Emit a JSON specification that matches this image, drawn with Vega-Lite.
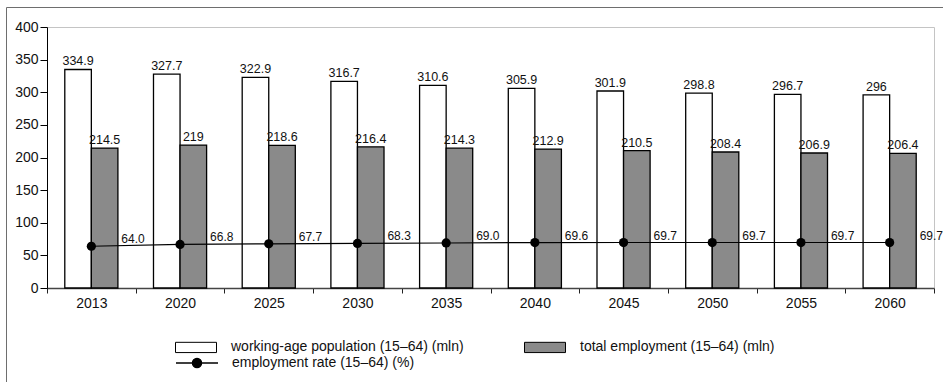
{
  "$schema": "https://vega.github.io/schema/vega-lite/v6.json",
  "width": 887,
  "height": 261,
  "autosize": {"type": "none"},
  "padding": {"left": 47, "top": 27, "right": 9, "bottom": 94},
  "background": "white",
  "config": {
    "view": {"stroke": "#c4c4c4", "strokeWidth": 1},
    "font": "Liberation Sans",
    "axis": {"labelFont": "Liberation Sans", "labelColor": "#111", "grid": false, "title": null},
    "legend": {"labelFont": "Liberation Sans"}
  },
  "data": {
    "values": [
      {"year": "2013", "wap": 334.9, "emp": 214.5, "rate": 64.0},
      {"year": "2020", "wap": 327.7, "emp": 219, "rate": 66.8},
      {"year": "2025", "wap": 322.9, "emp": 218.6, "rate": 67.7},
      {"year": "2030", "wap": 316.7, "emp": 216.4, "rate": 68.3},
      {"year": "2035", "wap": 310.6, "emp": 214.3, "rate": 69.0},
      {"year": "2040", "wap": 305.9, "emp": 212.9, "rate": 69.6},
      {"year": "2045", "wap": 301.9, "emp": 210.5, "rate": 69.7},
      {"year": "2050", "wap": 298.8, "emp": 208.4, "rate": 69.7},
      {"year": "2055", "wap": 296.7, "emp": 206.9, "rate": 69.7},
      {"year": "2060", "wap": 296, "emp": 206.4, "rate": 69.7}
    ]
  },
  "transform": [{"fold": ["wap", "emp", "rate"], "as": ["key", "value"]}],
  "encoding": {
    "x": {
      "field": "year",
      "type": "nominal",
      "scale": {"paddingInner": 0, "paddingOuter": 0},
      "axis": {
        "labelAngle": 0,
        "tickBand": "extent",
        "tickSize": 5,
        "labelPadding": 3,
        "labelFontSize": 14,
        "domainColor": "#444",
        "domainWidth": 1.3,
        "tickColor": "#222",
        "title": null
      }
    },
    "y": {
      "field": "value",
      "type": "quantitative",
      "scale": {"domain": [0, 400], "nice": false, "zero": true},
      "axis": {
        "values": [0, 50, 100, 150, 200, 250, 300, 350, 400],
        "tickCount": 20,
        "labelFontSize": 14,
        "tickSize": 7,
        "labelPadding": 2,
        "domainColor": "black",
        "tickColor": "black",
        "labelOverlap": false,
        "title": null
      }
    }
  },
  "layer": [
    {
      "transform": [{"filter": "datum.key !== 'rate'"}],
      "mark": {"type": "bar", "stroke": "black", "strokeWidth": 1.3},
      "encoding": {
        "xOffset": {"field": "key", "type": "nominal", "scale": {"domain": ["wap", "emp"], "paddingOuter": 0.67, "paddingInner": 0}},
        "fill": {
          "field": "key",
          "type": "nominal",
          "scale": {"domain": ["wap", "emp"], "range": ["white", "#8a8a8a"]},
          "legend": {
            "orient": "none",
            "legendX": 128,
            "legendY": 299,
            "direction": "horizontal",
            "columns": 2,
            "columnPadding": 58,
            "padding": 0,
            "title": null,
            "symbolType": "M-1,-0.25H1V0.25H-1Z",
            "symbolSize": 1681,
            "symbolStrokeColor": "black",
            "symbolStrokeWidth": 1,
            "labelFontSize": 14,
            "labelOffset": 14,
            "labelColor": "#111",
            "labelLimit": 400,
            "labelExpr": "datum.value === 'wap' ? 'working-age population (15–64) (mln)' : 'total employment (15–64) (mln)'"
          }
        }
      }
    },
    {
      "transform": [{"filter": "datum.key !== 'rate'"}],
      "mark": {"type": "text", "fontSize": 12.5, "color": "#111", "baseline": "alphabetic", "dy": -4},
      "encoding": {
        "xOffset": {"field": "key", "type": "nominal", "scale": {"domain": ["wap", "emp"], "paddingOuter": 0.67, "paddingInner": 0}},
        "text": {"field": "value", "type": "nominal"}
      }
    },
    {
      "transform": [{"filter": "datum.key === 'rate'"}],
      "mark": {"type": "line", "color": "black", "strokeWidth": 1.2},
      "encoding": {
        "stroke": {
          "datum": "employment rate (15–64) (%)",
          "scale": {"range": ["black"]},
          "legend": {
            "orient": "none",
            "legendX": 128,
            "legendY": 314,
            "padding": 0,
            "title": null,
            "symbolType": "M-1,0H1M0.22,0A0.22,0.22,0,1,1,-0.22,0A0.22,0.22,0,1,1,0.22,0Z",
            "symbolSize": 1764,
            "symbolStrokeColor": "black",
            "symbolFillColor": "black",
            "symbolStrokeWidth": 1.3,
            "labelFontSize": 14,
            "labelOffset": 13,
            "labelColor": "#111",
            "labelLimit": 400
          }
        }
      }
    },
    {
      "transform": [{"filter": "datum.key === 'rate'"}],
      "mark": {"type": "point", "filled": true, "color": "black", "size": 85, "opacity": 1},
      "encoding": {
        "shape": {
          "datum": "frame",
          "scale": {"range": ["circle"]},
          "legend": {
            "orient": "none",
            "legendX": -41,
            "legendY": -20,
            "padding": 700,
            "strokeColor": "#6e6e6e",
            "title": null,
            "labelExpr": "''",
            "symbolOpacity": 0,
            "symbolSize": 1
          }
        }
      }
    },
    {
      "transform": [{"filter": "datum.key === 'rate'"}],
      "mark": {"type": "text", "fontSize": 12, "color": "#111", "align": "left", "baseline": "alphabetic", "dx": 30, "dy": -3},
      "encoding": {
        "text": {"field": "value", "type": "quantitative", "format": ".1f"}
      }
    }
  ]
}
